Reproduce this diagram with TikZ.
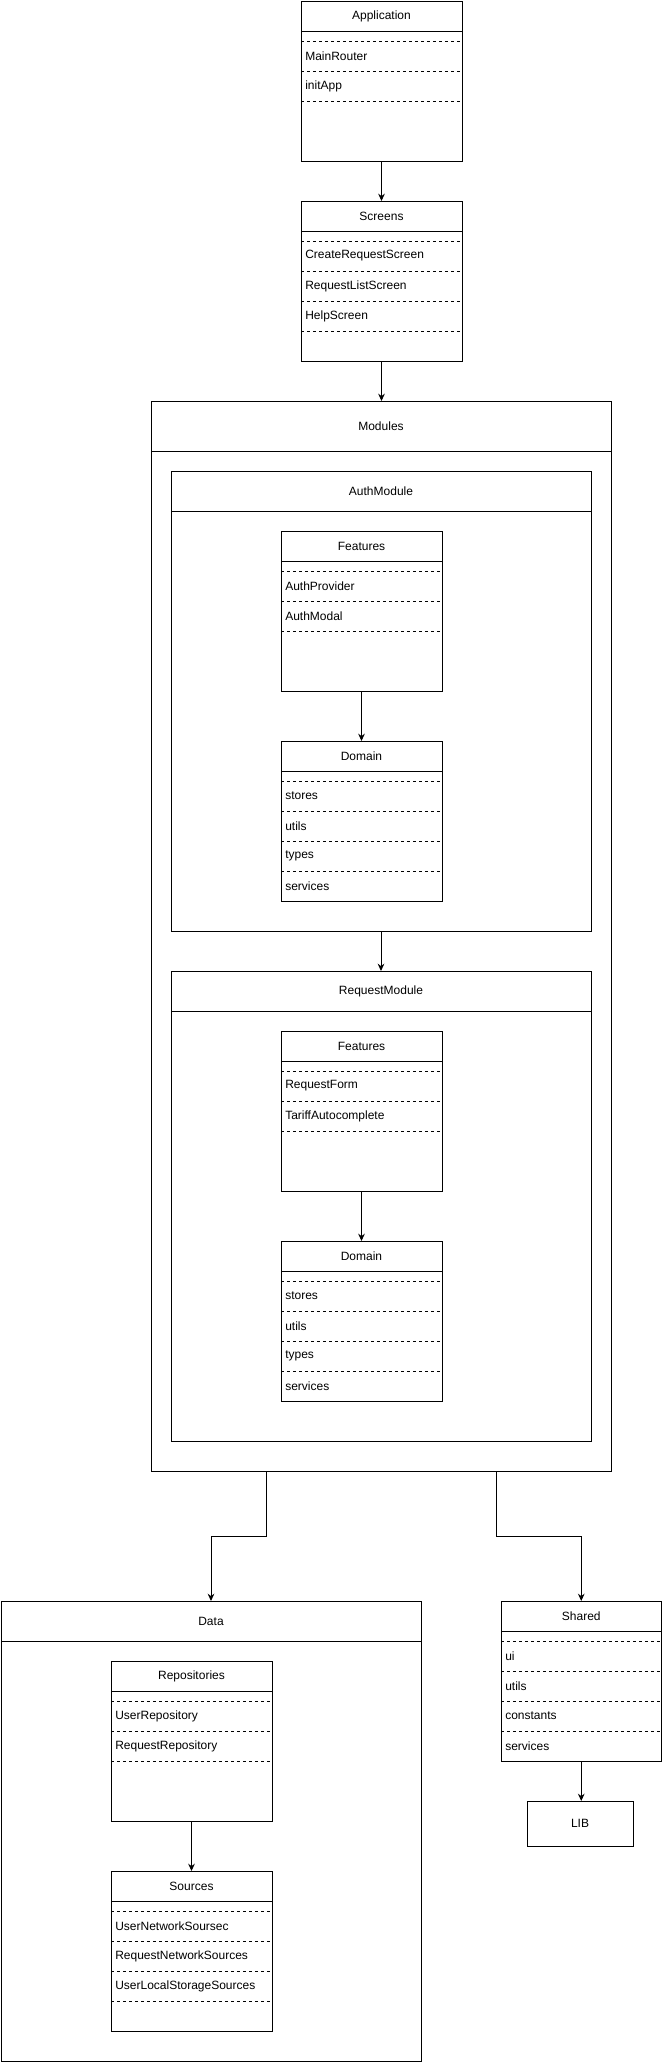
\documentclass[tikz,border=0pt]{standalone}
\usepackage{fontspec}
\setmainfont{Liberation Sans}
\usetikzlibrary{arrows.meta,calc}

\tikzset{
  box/.style={draw, line width=0.75pt, inner sep=0pt, outer sep=0pt, anchor=north west,
    minimum width=120.75pt, minimum height=120pt},
  head/.style={draw, line width=0.75pt, inner sep=0pt, outer sep=0pt, anchor=north west,
    minimum width=120.75pt, minimum height=22.5pt},
  item/.style={anchor=west, inner sep=0pt},
  sep/.style={dash pattern=on 2.25pt off 2.25pt, line width=0.75pt},
  link/.style={line width=0.75pt, -{Stealth[length=5.5pt,width=5pt]}}
}

\begin{document}
\begin{tikzpicture}[x=0.75pt,y=-0.75pt,font=\fontsize{9}{11}\selectfont]
\useasboundingbox (0,0) rectangle (662,2063);

% application
\node[box] (app) at (301,1) {};
\node[head] (apphead) at (301,1) {Application};
\draw[sep] (301,41) -- (462,41);
\node[item] (mainrouter) at (305,56) {MainRouter};
\draw[sep] (301,71) -- (462,71);
\node[item] (initapp) at (305,86) {initApp};
\draw[sep] (301,101) -- (462,101);

% screens
\node[box] (screens) at (301,201) {};
\node[head] (screenshead) at (301,201) {Screens};
\draw[sep] (301,241) -- (462,241);
\node[item] (createscreen) at (305,256) {CreateRequestScreen};
\draw[sep] (301,271) -- (462,271);
\node[item] (listscreen) at (305,286) {RequestListScreen};
\draw[sep] (301,301) -- (462,301);
\node[item] (helpscreen) at (305,316) {HelpScreen};
\draw[sep] (301,331) -- (462,331);

% modules
\node[box, minimum width=345pt, minimum height=802.5pt] (modules) at (151,401) {};
\node[head, minimum width=345pt, minimum height=37.5pt] (moduleshead) at (151,401) {Modules};

\node[box, minimum width=315pt, minimum height=345pt] (authmod) at (171,471) {};
\node[head, minimum width=315pt, minimum height=30pt] (authmodhead) at (171,471) {AuthModule};

\node[box] (authfeat) at (281,531) {};
\node[head] (authfeathead) at (281,531) {Features};
\draw[sep] (281,571) -- (442,571);
\node[item] (authprovider) at (285,586) {AuthProvider};
\draw[sep] (281,601) -- (442,601);
\node[item] (authmodal) at (285,616) {AuthModal};
\draw[sep] (281,631) -- (442,631);

\node[box] (authdom) at (281,741) {};
\node[head] (authdomhead) at (281,741) {Domain};
\draw[sep] (281,781) -- (442,781);
\node[item] (authstores) at (285,796) {stores};
\draw[sep] (281,811) -- (442,811);
\node[item] (authutils) at (285,826) {utils};
\draw[sep] (281,841) -- (442,841);
\node[item] (authtypes) at (285,856) {types};
\draw[sep] (281,871) -- (442,871);
\node[item] (authservices) at (285,886) {services};

\node[box, minimum width=315pt, minimum height=352.5pt] (reqmod) at (171,971) {};
\node[head, minimum width=315pt, minimum height=30pt] (reqmodhead) at (171,971) {RequestModule};

\node[box] (reqfeat) at (281,1031) {};
\node[head] (reqfeathead) at (281,1031) {Features};
\draw[sep] (281,1071) -- (442,1071);
\node[item] (requestform) at (285,1086) {RequestForm};
\draw[sep] (281,1101) -- (442,1101);
\node[item] (tariff) at (285,1116) {TariffAutocomplete};
\draw[sep] (281,1131) -- (442,1131);

\node[box] (reqdom) at (281,1241) {};
\node[head] (reqdomhead) at (281,1241) {Domain};
\draw[sep] (281,1281) -- (442,1281);
\node[item] (reqstores) at (285,1296) {stores};
\draw[sep] (281,1311) -- (442,1311);
\node[item] (requtils) at (285,1326) {utils};
\draw[sep] (281,1341) -- (442,1341);
\node[item] (reqtypes) at (285,1356) {types};
\draw[sep] (281,1371) -- (442,1371);
\node[item] (reqservices) at (285,1386) {services};

% data
\node[box, minimum width=315pt, minimum height=345pt] (data) at (1,1601) {};
\node[head, minimum width=315pt, minimum height=30pt] (datahead) at (1,1601) {Data};

\node[box] (repos) at (111,1661) {};
\node[head] (reposhead) at (111,1661) {Repositories};
\draw[sep] (111,1701) -- (272,1701);
\node[item] (userrepo) at (115,1716) {UserRepository};
\draw[sep] (111,1731) -- (272,1731);
\node[item] (requestrepo) at (115,1746) {RequestRepository};
\draw[sep] (111,1761) -- (272,1761);

\node[box] (sources) at (111,1871) {};
\node[head] (sourceshead) at (111,1871) {Sources};
\draw[sep] (111,1911) -- (272,1911);
\node[item] (usernet) at (115,1926) {UserNetworkSoursec};
\draw[sep] (111,1941) -- (272,1941);
\node[item] (requestnet) at (115,1956) {RequestNetworkSources};
\draw[sep] (111,1971) -- (272,1971);
\node[item] (userlocal) at (115,1986) {UserLocalStorageSources};
\draw[sep] (111,2001) -- (272,2001);

% shared
\node[box, minimum width=120.375pt] (shared) at (501,1601) {};
\node[head, minimum width=120.375pt] (sharedhead) at (501,1601) {Shared};
\draw[sep] (501,1641) -- (661.5,1641);
\node[item] (ui) at (505,1656) {ui};
\draw[sep] (501,1671) -- (661.5,1671);
\node[item] (sharedutils) at (505,1686) {utils};
\draw[sep] (501,1701) -- (661.5,1701);
\node[item] (constants) at (505,1716) {constants};
\draw[sep] (501,1731) -- (661.5,1731);
\node[item] (sharedservices) at (505,1746) {services};

\node[box, minimum width=79.5pt, minimum height=33.75pt] (lib) at (527,1801) {LIB};

% arrows
\draw[link] (app.south) -- (screens.north);
\draw[link] (screens.south) -- (screens.south |- modules.north);
\draw[link] (authfeat.south) -- (authdom.north);
\draw[link] (authmod.south) -- (reqmod.north);
\draw[link] (reqfeat.south) -- (reqdom.north);
\draw[link] ($(modules.south west)!0.25!(modules.south east)$) -- ++(0,65) -| (data.north);
\draw[link] ($(modules.south west)!0.75!(modules.south east)$) -- ++(0,65) -| (shared.north);
\draw[link] (repos.south) -- (sources.north);
\draw[link] (shared.south) -- (shared.south |- lib.north);
\end{tikzpicture}
\end{document}
